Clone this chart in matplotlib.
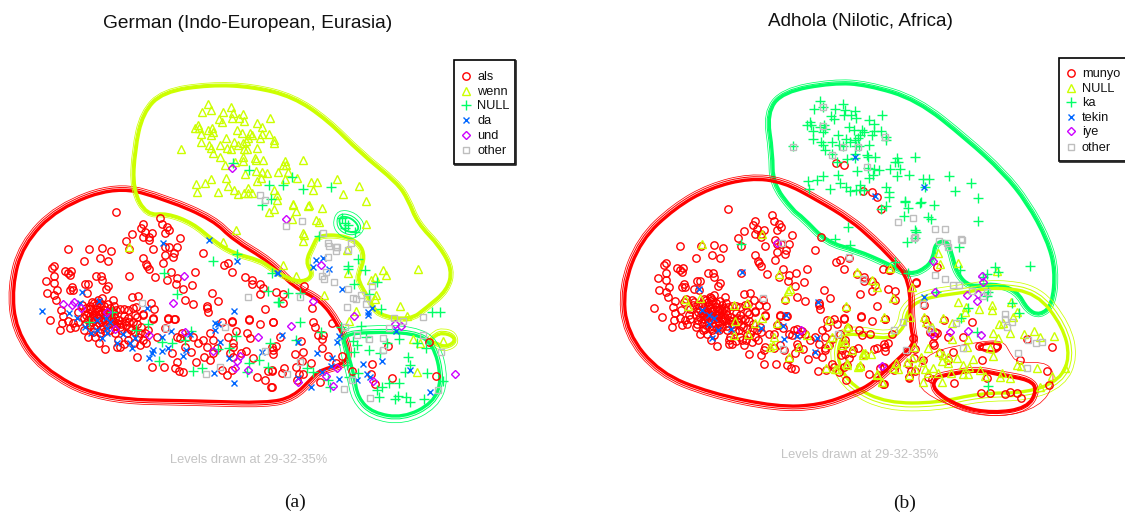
import numpy as np
import matplotlib
matplotlib.use('Agg')
import matplotlib.pyplot as plt
from matplotlib.path import Path
from matplotlib.patches import PathPatch, Rectangle

plt.rcParams['font.family'] = ['Liberation Sans', 'DejaVu Sans']

# R rainbow(5) + grey
RED = '#ff0000'
YEL = '#ccff00'
GRN = '#00ff66'
BLU = '#0066ff'
PUR = '#cc00ff'
GRY = '#bebebe'

# German and Adhola are the same map of points, the Adhola one shifted by ADHOLA_SHIFT.
ADHOLA_SHIFT = (612, -3)

als = [(116,212),(143,224),(141,228),(160,218),(162,224),(167,227),(169,230),(165,233),(132,234),(145,232),
    (152,233),(143,237),(149,237),(149,240),(180,238),(126,241),(129,249),(153,249),(165,247),(169,247),
    (177,247),(68,249),(89,249),(102,248),(111,251),(165,255),(174,253),(173,257),(203,253),(100,258),
    (108,261),(84,261),(143,258),(163,263),(146,264),(147,266),(149,269),(54,266),(52,268),(65,271),
    (71,271),(68,273),(70,275),(54,276),(46,281),(54,283),(96,276),(101,276),(102,280),(129,276),
    (155,277),(171,272),(177,278),(167,280),(176,284),(195,272),(192,285),(224,265),(228,263),(232,272),
    (245,277),(252,280),(252,284),(260,284),(263,288),(260,294),(276,292),(85,284),(88,284),(108,286),
    (106,289),(72,287),(70,290),(73,290),(57,290),(47,293),(54,295),(56,300),(87,293),(183,289),
    (185,300),(193,304),(212,293),(218,301),(207,306),(207,308),(208,312),(138,296),(132,297),(151,303),
    (154,309),(133,308),(136,307),(265,309),(50,320),(61,310),(63,316),(68,321),(62,323),(60,330),
    (70,328),(75,327),(73,323),(82,305),(86,308),(90,306),(94,303),(98,300),(102,298),(108,304),
    (113,300),(114,306),(88,313),(92,311),(96,309),(100,307),(104,310),(108,312),(112,311),(116,310),
    (120,309),(124,309),(128,310),(84,318),(88,320),(92,317),(96,315),(100,314),(103,318),(107,317),
    (111,317),(115,318),(119,320),(124,316),(128,318),(135,315),(143,315),(153,319),(168,319),(175,319),
    (232,321),(249,320),(273,322),(90,325),(94,328),(99,323),(103,326),(107,325),(112,324),(116,326),
    (120,327),(126,325),(129,328),(88,337),(95,337),(99,343),(105,349),(120,347),(137,357),(127,333),
    (143,340),(157,337),(177,337),(187,337),(193,337),(203,340),(213,340),(233,343),(247,333),(250,338),
    (172,353),(177,362),(191,352),(196,362),(204,357),(210,360),(213,353),(175,368),(179,371),(183,372),
    (152,367),(164,367),(222,370),(227,375),(232,370),(257,377),(265,380),(271,387),(268,371),(272,370),
    (253,358),(246,351),(233,347),(230,353),(222,322),(232,322),(236,331),(249,319),(260,324),(273,322),
    (272,347),(168,318),(174,319),(153,318),(143,314),(137,317),(165,328),(145,333),(138,337),(117,347),
    (198,343),(210,333),(182,333),(180,338),(185,347),(207,347),(217,348),(228,337),(233,357),(241,353),
    (304,286),(283,294),(283,303),(312,308),(313,322),(315,327),(332,323),(318,335),(323,335),(322,339),
    (301,341),(280,337),(276,346),(273,350),(273,354),(322,348),(295,354),(303,352),(302,361),(296,367),
    (311,363),(328,356),(284,368),(282,373),(272,371),(299,374),(303,374),(297,380),(320,382),(272,387),
    (336,363)]
als_dense = [(92,302),(96,305),(100,303),(104,306),(110,308),(90,309),(94,314),(98,311),(102,312),(106,314),
    (110,314),(114,314),(86,315),(90,316),(94,320),(98,318),(101,321),(105,321),(109,320),(113,321),
    (117,323),(121,324),(125,321),(129,322),(133,322),(137,324),(141,327),(86,323),(92,322),(96,325),
    (101,329),(105,331),(110,330),(115,333),(121,330),(131,330),(135,332),(140,333),(148,330),(128,340),
    (134,343),(140,345),(146,343),(118,340),(124,344),(100,333),(93,332),(84,330),(78,312),(78,322)]
als_east = [(342,356),(372,364),(352,371),(371,374),(392,378),(388,346),(429,342),(436,376),(375,384)]

wenn = [(208,104),(211,110),(202,112),(231,107),(223,112),(233,113),(232,118),(243,114),(239,118),(244,121),
    (219,119),(222,122),(270,118),(257,123),(262,127),(198,125),(195,128),(199,128),(208,130),(212,128),
    (213,132),(201,134),(211,135),(237,130),(242,133),(250,133),(252,135),(262,134),(269,134),(260,138),
    (248,138),(246,141),(243,143),(226,138),(234,142),(201,142),(209,145),(211,148),(220,145),(227,148),
    (231,149),(238,145),(244,149),(247,149),(257,148),(274,140),(274,143),(213,153),(181,149),(220,157),
    (243,157),(243,161),(255,158),(256,160),(263,160),(225,165),(235,162),(303,160),(285,161),(283,165),
    (286,165),(256,171),(245,174),(262,172),(267,173),(278,172),(288,172),(297,178),(285,179),(226,178),
    (211,179),(205,183),(196,184),(197,192),(218,192),(228,186),(234,190),(238,194),(244,193),(248,188),
    (248,193),(252,193),(257,181),(261,178),(274,190),(277,195),(277,200),(311,182),(317,182),(337,179),
    (313,190),(359,186),(343,194),(366,201),(322,208),(309,205),(293,204),(296,211),(269,212),(274,209),
    (293,205),(308,206),(292,219),(316,220),(319,222),(366,224),(303,233),(304,235),(303,241),(347,250),
    (283,265),(296,276),(348,273),(383,270),(386,275),(418,269),(375,277),(371,280),(376,295),(375,299),
    (324,295),(400,306),(356,311),(349,321),(407,316),(236,230),(223,242),(129,247)]
wenn_east = [(413,339),(420,343),(443,341),(417,372)]

null_de = [(233,163),(249,170),(292,177),(269,185),(283,185),(303,189),(331,187),(271,199),(262,205),(319,236),
    (342,218),(345,223),(345,228),(348,225),(355,232),(358,259),(348,266),(348,269),(365,270),(377,282),
    (354,284),(369,294),(381,309),(432,312),(440,312),(300,322),(300,293),(288,293),(279,302),(361,326),
    (341,327),(321,332),(296,340),(366,337),(399,339),(387,343),(417,343),(426,348),(353,341),(357,345),
    (369,350),(354,352),(380,353),(408,357),(410,365),(405,372),(427,373),(443,381),(358,373),(349,377),
    (389,383),(399,383),(382,387),(377,390),(379,397),(395,399),(398,396),(406,397),(410,402),(424,399),
    (330,387),(313,372),(307,368),(347,365),(328,380),(237,254),(213,261),(164,273),(272,273),(268,291),
    (278,302),(177,294),(112,312),(89,322),(148,324),(136,330),(191,331),(185,340),(162,342),(172,343),
    (236,336),(270,343),(229,348),(218,349),(249,363),(259,360),(268,367),(247,372),(202,368),(193,371),
    (159,361)]

da = [(163,243),(209,240),(237,261),(277,273),(82,292),(99,301),(42,311),(80,303),(147,308),(234,311),
    (69,313),(77,318),(97,320),(106,318),(110,322),(85,327),(91,333),(97,330),(107,328),(102,338),
    (107,333),(123,334),(117,343),(130,343),(135,338),(132,348),(171,331),(215,323),(218,324),(215,330),
    (190,334),(162,337),(220,342),(168,348),(162,351),(153,350),(152,353),(149,358),(183,356),(186,350),
    (229,358),(262,352),(214,373),(234,383),(278,273),(316,260),(323,258),(313,267),(329,269),(342,289),
    (372,308),(368,312),(368,315),(396,331),(282,335),(298,342),(339,336),(337,342),(317,353),(332,358),
    (331,366),(363,364),(382,361),(410,370),(367,374),(370,377),(322,372),(298,378),(339,379),(357,380),
    (311,387),(430,392)]

und = [(63,304),(74,302),(72,305),(81,308),(107,312),(115,329),(149,335),(173,303),(184,276),(185,332),
    (258,337),(213,351),(240,356),(237,361),(235,368),(248,370),(286,219),(321,265),(313,301),(354,316),
    (395,324),(401,326),(291,326),(337,368),(326,376),(333,386),(298,382),(373,381),(455,374),(232,168)]

other_de = [(142,303),(248,297),(166,328),(225,327),(265,351),(220,367),(206,374),(260,195),(265,200),(302,221),
    (286,226),(323,233),(328,243),(329,246),(336,247),(337,247),(336,251),(351,243),(348,250),(328,257),
    (326,272),(322,276),(324,279),(334,282),(348,289),(372,286),(353,298),(356,299),(361,295),(367,298),
    (347,307),(366,304),(394,318),(423,317),(403,321),(389,328),(345,327),(357,335),(369,339),(383,338),
    (423,335),(383,350),(441,352),(300,297),(300,362),(287,374),(352,380),(344,389),(370,398),(438,390)]

# Adhola marks that are not simply the German map (already in picture pixels)
munyo_extra = [(972,322),(963,337),(933,343),(953,352),(937,333),(948,337),(979,346),(997,346),(982,360),(1020,360),
    (1027,339),(1052,347),(1047,371),(1049,385),(1021,398),(1017,393),(1010,392),(1005,394),(990,393),(981,393),
    (954,383),(987,378),(928,377),(909,378),(937,267),(916,282),(883,269),(836,163),(881,209),(863,191)]

null_ad = [(702,244),(762,234),(779,274),(790,289),(788,291),(785,298),(685,299),(700,298),(688,306),(734,305),
    (747,303),(735,321),(762,318),(755,323),(777,323),(734,335),(748,334),(774,337),(773,345),(770,347),
    (799,347),(789,357),(846,306),(829,320),(857,272),(872,280),(877,287),(884,317),(847,327),(832,337),
    (828,344),(807,335),(843,338),(845,342),(842,345),(852,350),(865,353),(871,354),(847,363),(860,366),
    (826,368),(835,369),(877,375),(882,382),(893,298),(912,287),(910,317),(938,253),(940,264),(958,263),
    (890,268),(997,271),(958,302),(966,307),(965,312),(960,317),(943,318),(952,323),(924,317),(926,322),
    (932,327),(979,309),(992,305),(992,310),(1011,302),(1017,312),(1013,317),(999,324),(1003,323),(1010,333),
    (993,333),(968,339),(967,347),(952,339),(928,348),(939,352),(943,355),(948,357),(957,358),(942,361),
    (948,363),(973,359),(993,356),(990,348),(998,338),(1024,334),(1034,331),(1040,337),(1054,336),(1017,365),
    (1021,366),(1037,368),(1065,368),(1052,376),(1040,387),(1002,373),(1000,377),(1010,378),(985,376),(980,370),
    (969,367),(963,365),(963,374),(968,374),(951,373),(933,368),(938,373),(925,369),(928,373),(942,382),
    (923,382),(909,375),(915,369),(907,362),(921,357),(922,362),(914,347),(912,358),(898,369),(893,368),
    (896,363),(877,374),(882,382),(860,365),(858,367),(863,355),(863,353),(837,369),(847,365),(848,327)]

ka_extra = [(988,386),(977,332),(907,242),(850,245)]

tekin = [(742,272),(699,289),(702,310),(709,315),(714,318),(709,324),(718,330),(712,338),(731,329),(761,328),
    (783,326),(786,315),(818,302),(784,339),(797,336),(817,338),(815,352),(924,297),(855,157),(875,196),(924,187)]

iye = [(777,243),(801,330),(882,366),(933,261),(982,276),(983,282),(935,292),(967,295),(978,294),(977,301),
    (950,332),(968,331),(981,335),(932,334)]

other_ad = [(915,237),(849,257),(863,279),(935,275),(945,279),(953,285),(959,285),(939,241),(947,243),(948,247),
    (923,304),(972,291),(987,292),(983,296),(1005,314),(1005,319),(1012,322),(1007,327),(956,323),(903,322),
    (894,330),(930,329),(963,348),(906,350),(1028,340),(1036,343),(1042,342),(1018,353),(1027,368),(962,240),
    (823,107),(823,126),(793,147),(885,137),(843,147),(858,147),(832,155),(867,167),(913,218),(898,222),
    (935,229),(945,229),(914,238),(961,239),(782,243),(763,298),(783,349),(838,334)]

# contour outlines, level 35 (the thick one)
de_red = [(117,186),(167,200),(213,220),(233,240),(270,262),(293,287),(320,300),(337,323),(348,347),(347,363),
    (320,370),(313,377),(293,397),(267,403),(200,401),(100,399),(42,368),(16,330),(12,287),(23,245),(58,208)]
de_yel = [(253,87),(293,97),(327,120),(360,153),(397,183),(408,200),(417,223),(440,247),(452,270),(447,290),
    (427,307),(410,320),(378,315),(370,300),(358,280),(360,272),(365,257),(360,243),(343,235),(318,235),
    (313,245),(305,262),(313,275),(303,282),(287,278),(270,267),(260,260),(233,253),(213,240),(193,223),
    (167,213),(147,215),(133,190),(135,150),(143,113),(163,92),(210,85)]
de_yel_loop = [(443,333),(453,336),(455,342),(445,347),(436,343),(430,341),(436,335)]
de_grn = [(342,335),(370,332),(413,333),(433,343),(442,380),(433,403),(403,418),(373,413),(358,398),(354,375),(347,350)]
de_grn_ring = [(340,216),(352,218),(360,228),(354,233),(343,230),(339,223)]

ad_red = [(750,178),(783,182),(817,200),(850,220),(873,240),(890,257),(910,280),(910,327),(915,343),(900,357),
    (873,383),(853,393),(820,405),(777,407),(710,393),(660,373),(627,333),(623,287),(641,240),(675,208),(710,188)]
ad_red_low = [(935,378),(933,390),(960,407),(993,413),(1027,408),(1037,390),(1030,380),(1000,375),(977,370),(947,375)]
ad_red_small = [(977,347),(990,343),(1002,345),(997,352),(983,350)]
ad_red_thin = [(927,352),(977,342),(1003,340),(1010,353),(1017,363),(1050,362),(1055,383),(1040,407),(1000,418),
    (960,410),(923,393),(917,377)]
ad_yel = [(840,337),(853,333),(890,340),(905,327),(907,310),(923,298),(967,292),(997,287),(1037,293),(1063,327),
    (1070,357),(1060,380),(1027,393),(980,393),(937,403),(887,403),(853,387),(837,363)]
ad_grn = [(833,83),(867,85),(917,100),(967,140),(1003,173),(1027,203),(1047,240),(1055,270),(1052,305),(1040,315),
    (1028,310),(1017,290),(993,283),(970,287),(957,273),(952,253),(947,240),(935,243),(933,257),(927,267),
    (910,275),(887,263),(857,250),(827,242),(803,217),(793,210),(773,183),(773,153),(767,113),(783,92)]


def smooth_closed(pts):
    # quadratic B-spline through the midpoints, so the outline has no corners
    pts = np.asarray(pts, float)
    mids = (pts + np.roll(pts, -1, axis=0)) / 2
    verts = [mids[-1]]
    codes = [Path.MOVETO]
    for p, m in zip(pts, mids):
        verts += [p, m]
        codes += [Path.CURVE3, Path.CURVE3]
    return Path(verts, codes)


def grow(pts, dist):
    # push control points outward along their normals
    pts = np.asarray(pts, float)
    x, y = pts[:, 0], pts[:, 1]
    area = np.sum(x * np.roll(y, -1) - np.roll(x, -1) * y)
    tang = np.roll(pts, -1, axis=0) - np.roll(pts, 1, axis=0)
    norm = np.column_stack([tang[:, 1], -tang[:, 0]])
    norm /= np.linalg.norm(norm, axis=1, keepdims=True)
    return pts + np.sign(area) * norm * dist


def contour(ax, pts, color, gap1=2.8, gap2=4.6, thick=2.4):
    for dist, lw in [(gap2, 0.55), (gap1, 0.75), (0, thick)]:
        ax.add_patch(PathPatch(smooth_closed(grow(pts, dist)), fill=False, edgecolor=color, linewidth=lw))


def shifted(pts):
    return [(x + ADHOLA_SHIFT[0], y + ADHOLA_SHIFT[1]) for x, y in pts]


def points(ax, pts, marker, color, ms):
    xs, ys = zip(*pts)
    ax.plot(xs, ys, linestyle='none', marker=marker, markersize=ms, markerfacecolor='none',
            markeredgecolor=color, markeredgewidth=1.0)


STYLES = [('o', RED, 5.3), ('^', YEL, 5.6), ('+', GRN, 7.0), ('x', BLU, 4.6), ('D', PUR, 4.0), ('s', GRY, 4.2)]


def legend(ax, names, x0, x1, y0, y1, ys, mx, tx):
    ax.add_patch(Rectangle((x0, y0), x1 - x0, y1 - y0, facecolor='white', edgecolor='black', linewidth=1.2, zorder=5))
    ax.plot([x0 + 1, x1 + 0.5, x1 + 0.5], [y1 + 0.5, y1 + 0.5, y0 + 1], color='#222222', linewidth=1.2, zorder=5)
    for name, y, (mk, col, ms) in zip(names, ys, STYLES):
        ax.plot([mx], [y], linestyle='none', marker=mk, markersize=ms, markerfacecolor='none',
                markeredgecolor=col, markeredgewidth=1.0, zorder=6)
        ax.text(tx, y + 1, name, fontsize=9.2, va='center', ha='left', color='#111111', zorder=6)


fig = plt.figure(figsize=(11.25, 5.15), dpi=100)
ax = fig.add_axes([0, 0, 1, 1])
ax.set_xlim(0, 1125)
ax.set_ylim(515, 0)
ax.axis('off')

# German
contour(ax, de_red, RED)
contour(ax, de_yel, YEL, 1.8, 3.2)
contour(ax, de_yel_loop, YEL, 2.5, 5)
contour(ax, de_grn, GRN, 3, 7)
contour(ax, de_grn_ring, GRN, 3, 7, thick=1.4)

german = [als + als_dense + als_east, wenn + wenn_east, null_de, da, und, other_de]
for pts, (mk, col, ms) in zip(german, STYLES):
    points(ax, pts, mk, col, ms)

# Adhola
contour(ax, ad_grn, GRN, 2.2, 4)
contour(ax, ad_yel, YEL, 4, 8)
contour(ax, ad_red, RED)
contour(ax, ad_red_low, RED, 2, 4)
contour(ax, ad_red_small, RED, 1, 2, thick=1.4)
ax.add_patch(PathPatch(smooth_closed(ad_red_thin), fill=False, edgecolor=RED, linewidth=0.5))

west = [p for p in da + und + other_de if p[0] < 280]
adhola = [shifted(als + als_dense + west) + munyo_extra, null_ad, shifted(wenn) + ka_extra, tekin, iye, other_ad]
for pts, (mk, col, ms) in zip(adhola, STYLES):
    points(ax, pts, mk, col, ms)

# Titles and notes
ax.text(248, 24, 'German (Indo-European, Eurasia)', fontsize=13.75, ha='center', va='center', color='#111111')
ax.text(860, 22, 'Adhola (Nilotic, Africa)', fontsize=13.6, ha='center', va='center', color='#111111')
ax.text(249, 460, 'Levels drawn at 29-32-35%', fontsize=9.3, ha='center', va='center', color='#c4c4c4')
ax.text(860, 455, 'Levels drawn at 29-32-35%', fontsize=9.3, ha='center', va='center', color='#c4c4c4')
ax.text(295, 502, '(a)', fontsize=14, ha='center', va='center', family='Liberation Serif', color='#111111')
ax.text(905, 503, '(b)', fontsize=14, ha='center', va='center', family='Liberation Serif', color='#111111')

legend(ax, ['als', 'wenn', 'NULL', 'da', 'und', 'other'], 454, 515, 60, 164, [76, 91, 105, 120, 135, 150], 466, 477)
legend(ax, ['munyo', 'NULL', 'ka', 'tekin', 'iye', 'other'], 1059, 1130, 58, 161, [73, 88, 102, 117, 131, 147], 1071, 1082)

fig.savefig('out.png', dpi=100, facecolor='white')
